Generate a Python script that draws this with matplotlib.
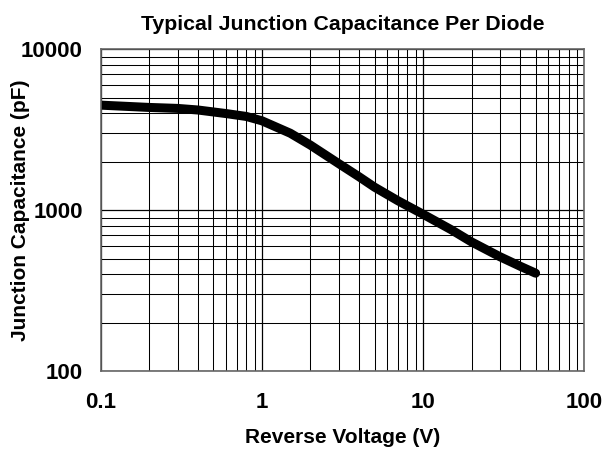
import matplotlib
matplotlib.use("Agg")
import matplotlib.pyplot as plt

plt.rcParams['font.family'] = ['Liberation Sans', 'DejaVu Sans']
plt.rcParams['font.weight'] = 'bold'

# values
voltage = [0.1, 0.2, 0.3, 0.4, 0.6, 0.8, 1, 1.5, 2, 3, 4, 5, 7, 10, 15, 20, 30, 40, 50]
capacitance = [4490, 4345, 4285, 4190, 3980, 3820, 3590, 3005, 2535, 1945, 1615, 1390,
               1143, 944, 755, 635, 514, 449, 406]

x_ticks = [0.1, 1, 10, 100]
x_labels = ['0.1', '1', '10', '100']
y_ticks = [100, 1000, 10000]
y_labels = ['100', '1000', '10000']

fig, ax = plt.subplots(figsize=(6.11, 4.51), dpi=100)
fig.subplots_adjust(left=0.165, right=0.956, top=0.891, bottom=0.177)

ax.plot(voltage, capacitance, color='black', linewidth=6.5,
        solid_capstyle='round', solid_joinstyle='round')

ax.set_xscale('log')
ax.set_yscale('log')
ax.set_xlim(0.1, 100)
ax.set_ylim(100, 10000)
ax.set_xticks(x_ticks)
ax.set_xticklabels(x_labels)
ax.set_yticks(y_ticks)
ax.set_yticklabels(y_labels)
ax.tick_params(which='both', length=0, labelsize=16)
ax.tick_params(axis='x', pad=15)
ax.tick_params(axis='y', pad=13)

ax.grid(which='major', color='black', linewidth=0.9)
ax.grid(which='minor', color='black', linewidth=0.75)
for s in ax.spines.values():
    s.set_color('#666666')
    s.set_linewidth(1.2)

ax.set_title('Typical Junction Capacitance Per Diode', fontsize=15.3, fontweight='bold', pad=14)
ax.set_xlabel('Reverse Voltage (V)', fontsize=15, fontweight='bold', labelpad=11)
ax.set_ylabel('Junction Capacitance (pF)', fontsize=15, fontweight='bold')
ax.yaxis.set_label_coords(-0.147, 0.5)

fig.savefig('out.png', dpi=100)
